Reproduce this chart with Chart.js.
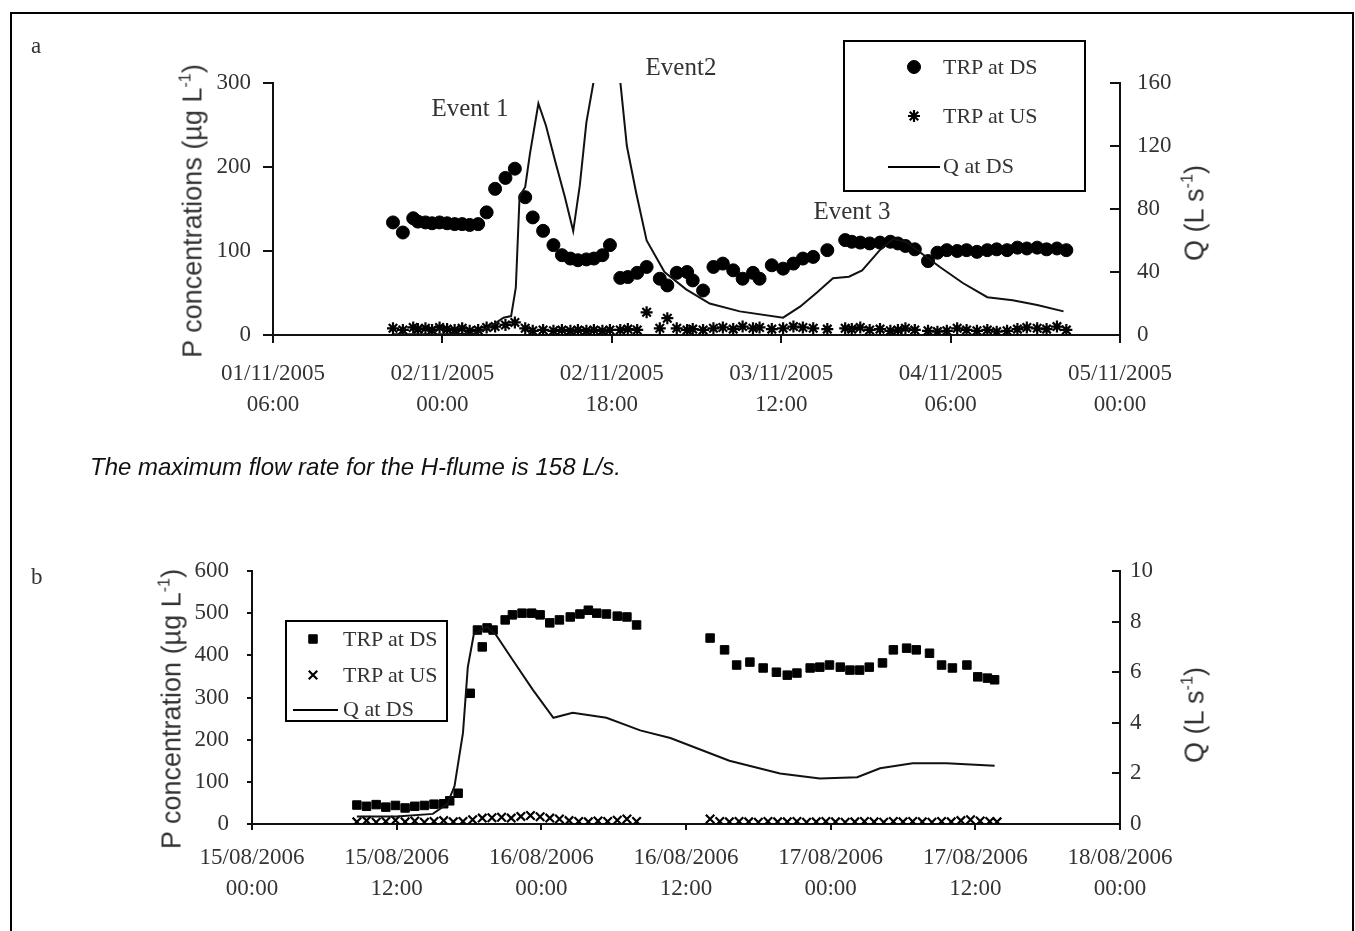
<!DOCTYPE html>
<html>
<head>
<meta charset="utf-8">
<script src="https://cdn.jsdelivr.net/npm/chart.js@4.4.1/dist/chart.umd.min.js"></script>
<style>
  body { margin: 0; background: #fff; width: 1355px; height: 931px; position: relative; overflow: hidden; color: #333; }
  #frame { position: absolute; left: 10px; top: 12px; width: 1340px; height: 940px; border: 2px solid #000; border-bottom: none; }
  canvas.chart { position: absolute; left: 0; }
  .t { position: absolute; white-space: nowrap; }
  .serif { font-family: "Liberation Serif", "Times New Roman", serif; }
  .sans { font-family: "Liberation Sans", Arial, sans-serif; }
  .c { transform: translate(-50%, -50%); }
  .rot { transform: translate(-50%, -50%) rotate(-90deg); }
  sup { font-size: 0.6em; vertical-align: 0.7em; line-height: 0; }
  .legend { position: absolute; border: 2px solid #000; box-sizing: border-box; }
  .item { position: absolute; white-space: nowrap; font-family: "Liberation Serif", "Times New Roman", serif; font-size: 22px; transform: translateY(-50%); }
  .mk { position: absolute; }
  .ln { position: absolute; border-top: 2px solid #000; }
</style>
</head>
<body>
<div id="frame"></div>

<canvas id="ca" class="chart" width="1355" height="440" style="top:0px"></canvas>
<canvas id="cb" class="chart" width="1355" height="450" style="top:480px"></canvas>

<div class="t serif" style="left:31px;top:33px;font-size:23px">a</div>
<div class="t serif" style="left:31px;top:564px;font-size:23px">b</div>

<div class="t sans rot" style="left:193px;top:211px;font-size:27px">P concentrations (µg L<sup>-1</sup>)</div>
<div class="t sans rot" style="left:1195px;top:213px;font-size:27px">Q (L s<sup>-1</sup>)</div>
<div class="t sans rot" style="left:172px;top:709px;font-size:27px">P concentration (µg L<sup>-1</sup>)</div>
<div class="t sans rot" style="left:1195px;top:715px;font-size:27px">Q (L s<sup>-1</sup>)</div>

<div class="t serif c" style="left:470px;top:108px;font-size:25px">Event 1</div>
<div class="t serif c" style="left:681px;top:67px;font-size:25px">Event2</div>
<div class="t serif c" style="left:852px;top:211px;font-size:25px">Event 3</div>

<div class="t sans" style="left:90px;top:453px;font-size:24px;font-style:italic;color:#111">The maximum flow rate for the H-flume is 158 L/s.</div>

<div class="legend" style="left:843px;top:40px;width:243px;height:152px"></div>
<canvas class="mk" id="la1" width="24" height="24" style="left:902px;top:55px"></canvas>
<div class="item" style="left:943px;top:67px">TRP at DS</div>
<canvas class="mk" id="la2" width="24" height="24" style="left:902px;top:104px"></canvas>
<div class="item" style="left:943px;top:116px">TRP at US</div>
<div class="ln" style="left:888px;top:166px;width:52px"></div>
<div class="item" style="left:943px;top:166px">Q at DS</div>

<div class="legend" style="left:285px;top:620px;width:163px;height:102px"></div>
<canvas class="mk" id="lb1" width="24" height="24" style="left:301px;top:627px"></canvas>
<div class="item" style="left:343px;top:639px">TRP at DS</div>
<canvas class="mk" id="lb2" width="24" height="24" style="left:301px;top:663px"></canvas>
<div class="item" style="left:343px;top:675px">TRP at US</div>
<div class="ln" style="left:293px;top:709px;width:45px"></div>
<div class="item" style="left:343px;top:709px">Q at DS</div>

<script>
// ---- panel a: hours after 01/11/2005 06:00 ----
var aTickLabels = [['01/11/2005', '06:00'], ['02/11/2005', '00:00'], ['02/11/2005', '18:00'],
                   ['03/11/2005', '12:00'], ['04/11/2005', '06:00'], ['05/11/2005', '00:00']];
var aDsTime = [12.75, 13.8, 14.9, 15.4, 16.2, 16.9, 17.7, 18.5, 19.3, 20.1, 20.9, 21.8, 22.7, 23.6, 24.7, 25.7,
               26.8, 27.6, 28.7, 29.8, 30.7, 31.6, 32.4, 33.3, 34.1, 35.0, 35.8, 36.9, 37.7, 38.7, 39.7, 41.1,
               41.9, 42.9, 44.0, 44.6, 45.7, 46.8, 47.8, 48.9, 49.9, 51.0, 51.7, 53.0, 54.2, 55.3, 56.3, 57.4,
               58.9, 60.8, 61.5, 62.4, 63.4, 64.5, 65.6, 66.4, 67.2, 68.2, 69.6, 70.6, 71.6, 72.7, 73.7, 74.8,
               75.9, 76.9, 78.0, 79.1, 80.1, 81.2, 82.2, 83.3, 84.3];
var aDsVal  = [134, 122, 139, 135, 134, 133, 134, 133, 132, 132, 131, 132, 146, 174, 187, 198,
               164, 140, 124, 107, 95, 91, 89, 90, 91, 95, 107, 68, 69, 74, 81, 67,
               59, 74, 75, 65, 53, 81, 85, 77, 67, 74, 67, 83, 79, 85, 91, 93,
               101, 113, 111, 110, 109, 110, 111, 109, 106, 102, 88, 98, 101, 100, 101, 99,
               101, 102, 101, 104, 103, 104, 102, 103, 101];
var aUsVal  = [8, 6, 9, 7, 8, 6, 9, 7, 6, 8, 5, 6, 9, 10, 12, 15,
               8, 5, 6, 5, 6, 5, 6, 5, 6, 5, 6, 6, 7, 6, 27, 8,
               20, 8, 6, 7, 6, 8, 9, 7, 10, 8, 9, 7, 8, 10, 9, 8,
               7, 8, 7, 9, 6, 7, 5, 6, 8, 6, 5, 4, 5, 8, 6, 5,
               6, 4, 5, 7, 9, 8, 7, 10, 6];
var aQTime  = [12.75, 18, 21.5, 23, 24.5, 25.3, 25.8, 26.2, 26.8, 27.3, 28.2, 29.0, 30.0, 31.0, 31.9, 32.6,
               33.3, 34.1, 35.0, 35.8, 36.9, 37.6, 38.6, 39.7, 41.6, 43.9, 46.4, 49.6, 54.2, 56.0, 57.8, 59.5,
               61.2, 62.6, 64.5, 65.9, 67.3, 70.9, 73.3, 75.9, 78.6, 81.2, 84.0];
var aQVal   = [0.5, 0.5, 1, 5, 11, 12, 30, 88, 94, 115, 147, 133, 110, 88, 66, 95,
               135, 162, 178, 172, 161, 120, 90, 60, 40, 29, 20, 15, 11, 18, 27, 36,
               37, 41, 54, 61, 59, 43, 33, 24, 22, 19, 15];

// ---- panel b: hours after 15/08/2006 00:00 ----
var bTickLabels = [['15/08/2006', '00:00'], ['15/08/2006', '12:00'], ['16/08/2006', '00:00'], ['16/08/2006', '12:00'],
                   ['17/08/2006', '00:00'], ['17/08/2006', '12:00'], ['18/08/2006', '00:00']];
var bDsTime = [8.7, 9.5, 10.3, 11.1, 11.9, 12.7, 13.5, 14.3, 15.1, 15.9, 16.4, 17.1, 18.1, 18.7, 19.1, 19.5,
               20.0, 21.0, 21.6, 22.4, 23.2, 23.9, 24.7, 25.5, 26.4, 27.2, 27.9, 28.6, 29.4, 30.3, 31.1, 31.9,
               38.0, 39.2, 40.2, 41.3, 42.4, 43.5, 44.4, 45.2, 46.3, 47.1, 47.9, 48.8, 49.6, 50.4, 51.2, 52.3,
               53.2, 54.3, 55.1, 56.2, 57.2, 58.1, 59.3, 60.2, 61.0, 61.6];
var bDsVal  = [45, 42, 46, 40, 44, 38, 42, 44, 47, 48, 55, 73, 310, 460, 420, 465,
               460, 484, 496, 500, 500, 496, 477, 484, 491, 498, 507, 500, 498, 493, 491, 472,
               441, 413, 377, 384, 370, 360, 353, 358, 370, 372, 377, 372, 365, 365, 372, 382,
               413, 417, 413, 405, 377, 370, 377, 349, 346, 342];
var bUsTime = [8.7, 9.5, 10.3, 11.1, 11.9, 12.7, 13.5, 14.3, 15.1, 15.9, 16.7, 17.5, 18.3, 19.1, 19.9, 20.7,
               21.5, 22.3, 23.1, 23.9, 24.7, 25.5, 26.3, 27.1, 27.9, 28.7, 29.5, 30.3, 31.1, 31.9,
               38.0, 38.8, 39.6, 40.4, 41.2, 42.0, 42.8, 43.6, 44.4, 45.2, 46.0, 46.8, 47.6, 48.4, 49.2, 50.0,
               50.8, 51.6, 52.4, 53.2, 54.0, 54.8, 55.6, 56.4, 57.2, 58.0, 58.8, 59.6, 60.4, 61.2, 61.8];
var bUsVal  = [5, 8, 4, 6, 9, 5, 7, 4, 6, 8, 5, 6, 10, 14, 15, 16,
               14, 18, 20, 17, 14, 12, 8, 6, 5, 7, 6, 9, 12, 6,
               12, 6, 5, 6, 5, 4, 6, 5, 5, 6, 4, 5, 6, 5, 4, 5,
               6, 5, 4, 6, 5, 6, 5, 4, 6, 5, 8, 10, 7, 6, 5];
var bQTime  = [8.7, 12, 15, 16.2, 16.8, 17.5, 17.9, 18.4, 19.5, 20.2, 21.6, 23.3, 25.0, 26.6, 29.4, 32.2,
               34.7, 39.6, 43.8, 47.1, 50.2, 52.1, 54.8, 57.6, 61.6];
var bQVal   = [0.3, 0.3, 0.4, 0.8, 1.5, 3.6, 6.2, 7.5, 7.8, 7.5, 6.5, 5.3, 4.2, 4.4, 4.2, 3.7,
               3.4, 2.5, 2.0, 1.8, 1.85, 2.2, 2.4, 2.4, 2.3];

function pts(xs, ys) {
  return xs.map(function(x, i) { return { x: x, y: ys[i] }; });
}

var serif = '"Liberation Serif", "Times New Roman", serif';
var tickFont = { family: serif, size: 23, lineHeight: 1.35 };
var ink = '#333';

function yAxis(pos, max, step, width, tick, pad) {
  return {
    position: pos, min: 0, max: max,
    ticks: { stepSize: step, font: tickFont, color: ink, padding: pad },
    grid: { drawOnChartArea: false, drawTicks: true, tickLength: tick, color: '#111', lineWidth: 2 },
    border: { display: true, color: '#111', width: 2 },
    afterFit: function(s) { s.width = width; }
  };
}

function xAxis(max, step, labels, height, tick, pad) {
  return {
    type: 'linear', position: 'bottom', min: 0, max: max,
    ticks: {
      stepSize: step, autoSkip: false, maxRotation: 0, font: tickFont, color: ink, padding: pad,
      callback: function(v, i) { return labels[i]; }
    },
    grid: { drawOnChartArea: false, drawTicks: true, tickLength: tick, color: '#111', lineWidth: 2 },
    border: { display: true, color: '#111', width: 2 },
    afterFit: function(s) { s.height = height; }
  };
}

function baseOptions(top, scales) {
  return {
    responsive: false, animation: false, events: [],
    layout: { padding: { top: top, left: 0, right: 0, bottom: 0 } },
    plugins: { legend: { display: false }, tooltip: { enabled: false } },
    scales: scales
  };
}

// panel a: chart area 273..1120 x 83..335
new Chart(document.getElementById('ca'), {
  type: 'scatter',
  data: {
    datasets: [
      { label: 'Q at DS', data: pts(aQTime, aQVal), yAxisID: 'y2', showLine: true,
        borderColor: '#111', borderWidth: 2, pointRadius: 0, tension: 0 },
      { label: 'TRP at DS', data: pts(aDsTime, aDsVal), yAxisID: 'y', pointStyle: 'circle',
        pointRadius: 6.5, backgroundColor: '#000', borderColor: '#000', borderWidth: 1 },
      { label: 'TRP at US', data: pts(aDsTime, aUsVal), yAxisID: 'y', pointStyle: 'star',
        pointRadius: 6, borderColor: '#000', borderWidth: 2.2 }
    ]
  },
  options: baseOptions(83, {
    x: xAxis(90, 18, aTickLabels, 105, 8, 15),
    y: yAxis('left', 300, 100, 273, 10, 12),
    y2: yAxis('right', 160, 40, 235, -10, 27)
  })
});

// panel b: chart area 252..1120 x 571..824
new Chart(document.getElementById('cb'), {
  type: 'scatter',
  data: {
    datasets: [
      { label: 'Q at DS', data: pts(bQTime, bQVal), yAxisID: 'y2', showLine: true,
        borderColor: '#111', borderWidth: 2, pointRadius: 0, tension: 0 },
      { label: 'TRP at DS', data: pts(bDsTime, bDsVal), yAxisID: 'y', pointStyle: 'rect',
        pointRadius: 6, backgroundColor: '#000', borderColor: '#000', borderWidth: 1 },
      { label: 'TRP at US', data: pts(bUsTime, bUsVal), yAxisID: 'y', pointStyle: 'crossRot',
        pointRadius: 6, borderColor: '#000', borderWidth: 2.2 }
    ]
  },
  options: baseOptions(91, {
    x: xAxis(72, 12, bTickLabels, 106, 6, 12),
    y: yAxis('left', 600, 100, 252, 5, 18),
    y2: yAxis('right', 10, 2, 235, -8, 18)
  })
});

// legend markers
function marker(id, style, r, bw, fill) {
  var c = document.getElementById(id);
  var ctx = c.getContext('2d');
  ctx.fillStyle = fill ? '#000' : 'rgba(0,0,0,0)';
  ctx.strokeStyle = '#000';
  ctx.lineWidth = bw;
  Chart.helpers.drawPoint(ctx, { pointStyle: style, radius: r, rotation: 0, borderWidth: bw }, 12, 12);
}
marker('la1', 'circle', 6.5, 1, true);
marker('la2', 'star', 6, 2.2, false);
marker('lb1', 'rect', 6, 1, true);
marker('lb2', 'crossRot', 6, 2.2, false);
</script>
</body>
</html>
